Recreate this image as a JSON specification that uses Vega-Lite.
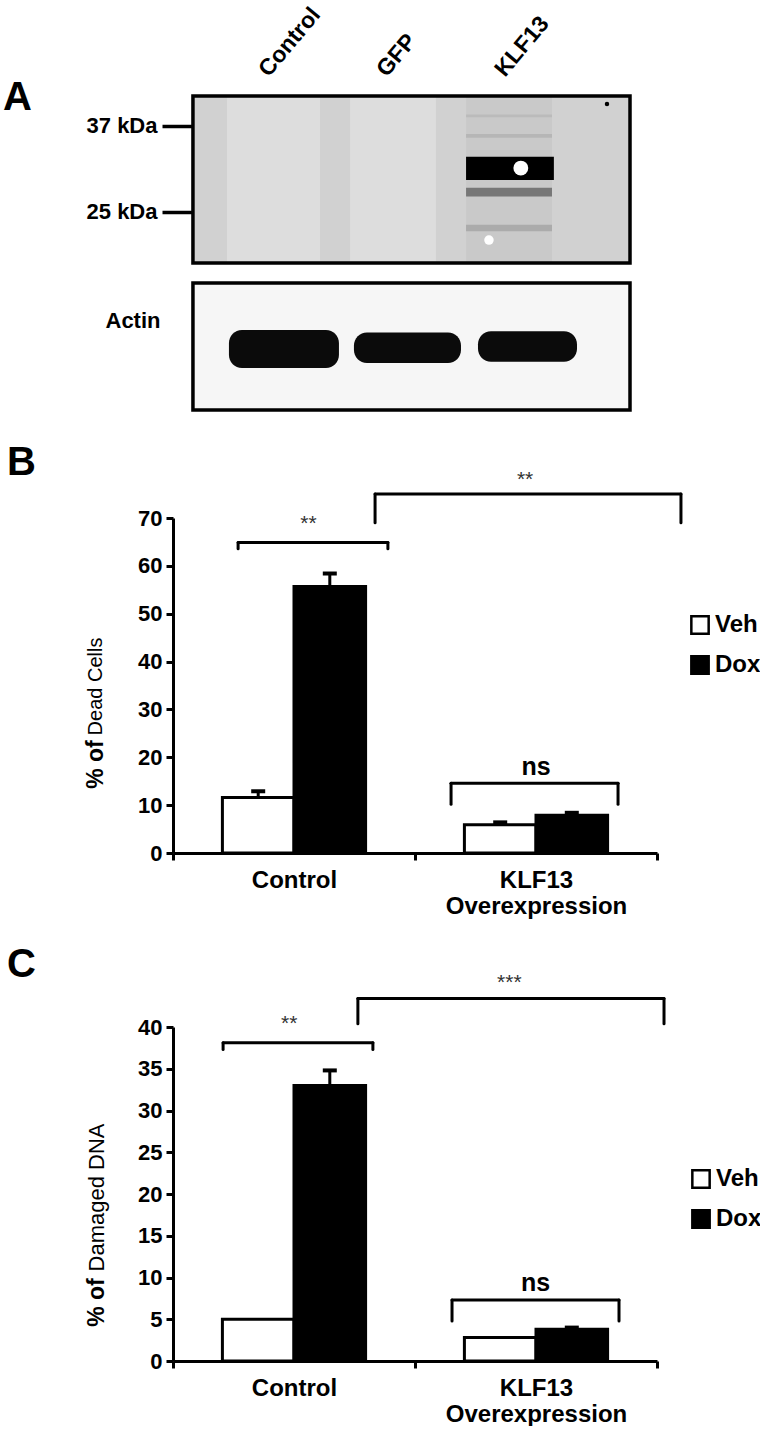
{
  "$schema": "https://vega.github.io/schema/vega-lite/v6.json",
  "background": "white",
  "padding": {"left": 2, "top": 3, "right": 0, "bottom": 0},
  "spacing": 30,
  "resolve": {"scale": {"x": "independent", "y": "independent", "fill": "independent"}},
  "config": {
    "font": "Liberation Sans",
    "view": {"stroke": null},
    "axis": {"grid": false, "domainColor": "black", "tickColor": "black", "labelColor": "black", "titleColor": "black", "labelFontWeight": "bold"},
    "title": {"color": "black"}
  },
  "datasets": {
    "dead": [
      {"group": "Control", "treatment": "Veh", "mean": 11.6, "upper": 12.9},
      {"group": "Control", "treatment": "Dox", "mean": 55.7, "upper": 58.4},
      {"group": "KLF13 Overexpression", "treatment": "Veh", "mean": 5.9, "upper": 6.4},
      {"group": "KLF13 Overexpression", "treatment": "Dox", "mean": 7.9, "upper": 8.4}
    ],
    "dna": [
      {"group": "Control", "treatment": "Veh", "mean": 5.0, "upper": 5.0},
      {"group": "Control", "treatment": "Dox", "mean": 33.0, "upper": 34.8},
      {"group": "KLF13 Overexpression", "treatment": "Veh", "mean": 2.8, "upper": 2.8},
      {"group": "KLF13 Overexpression", "treatment": "Dox", "mean": 3.8, "upper": 4.0}
    ],
    "bracketsB": [
      {"from": 0.269, "to": 0.888, "level": 64.9, "tip": 63.6, "mid": 0.56, "lab": 68.8, "label": "**"},
      {"from": 0.835, "to": 2.099, "level": 75.0, "tip": 69.0, "mid": 1.455, "lab": 78.0, "label": "**"},
      {"from": 1.149, "to": 1.839, "level": 14.6, "tip": 10.2, "mid": 1.5, "lab": 18.0, "label": "ns"}
    ],
    "bracketsC": [
      {"from": 0.207, "to": 0.826, "level": 38.1, "tip": 37.3, "mid": 0.48, "lab": 40.4, "label": "**"},
      {"from": 0.764, "to": 2.029, "level": 43.4, "tip": 40.4, "mid": 1.39, "lab": 45.3, "label": "***"},
      {"from": 1.153, "to": 1.843, "level": 7.3, "tip": 4.8, "mid": 1.498, "lab": 9.3, "label": "ns"}
    ],
    "membrane": [{"x0": 0.322, "x1": 4.025, "top": 42.3, "bottom": 19.83, "od": 0.16}],
    "blot": [
      {"x0": 0.61, "x1": 1.398, "top": 42.3, "bottom": 19.83, "od": 0.12},
      {"x0": 1.653, "x1": 2.381, "top": 42.3, "bottom": 19.83, "od": 0.12},
      {"x0": 2.636, "x1": 3.364, "top": 42.3, "bottom": 19.83, "od": 0.19},
      {"x0": 2.636, "x1": 3.364, "top": 38.9, "bottom": 38.4, "od": 0.24},
      {"x0": 2.636, "x1": 3.364, "top": 35.6, "bottom": 35.0, "od": 0.26},
      {"x0": 2.636, "x1": 3.38, "top": 32.1, "bottom": 28.9, "od": 1.0},
      {"x0": 2.636, "x1": 3.364, "top": 27.9, "bottom": 26.8, "od": 0.5},
      {"x0": 2.636, "x1": 3.364, "top": 23.6, "bottom": 22.9, "od": 0.3}
    ],
    "spots": [
      {"x": 3.10, "k": 30.5, "od": 0, "s": 220},
      {"x": 2.83, "k": 22.0, "od": 0, "s": 90},
      {"x": 3.83, "k": 40.8, "od": 1, "s": 20}
    ],
    "actinMembrane": [{"x0": 0.322, "x1": 4.025, "top": 1, "bottom": 0, "od": 0.03}],
    "actin": [
      {"x0": 0.627, "x1": 1.559, "top": 0.63, "bottom": 0.33, "od": 0.97},
      {"x0": 1.686, "x1": 2.593, "top": 0.61, "bottom": 0.37, "od": 0.97},
      {"x0": 2.737, "x1": 3.576, "top": 0.62, "bottom": 0.38, "od": 0.97}
    ]
  },
  "vconcat": [
    {
      "bounds": "flush",
      "spacing": 20,
      "vconcat": [
        {
          "width": 457,
          "height": 167,
          "layer": [
            {
              "data": {"name": "membrane"},
              "mark": {"type": "rect"},
              "encoding": {
                "x": {"field": "x0", "type": "quantitative", "scale": {"domain": [0.153, 4.025], "nice": false, "zero": false},
                  "axis": {"orient": "top", "values": [1, 2, 3], "labelExpr": "datum.value == 1 ? 'Control' : datum.value == 2 ? 'GFP' : 'KLF13'", "labelAngle": -50, "labelAlign": "left", "labelBaseline": "middle", "labelFontSize": 23, "labelPadding": 23, "labelOffset": -10, "ticks": false, "domain": false, "title": null}},
                "x2": {"field": "x1"},
                "y": {"field": "top", "type": "quantitative", "scale": {"type": "log", "domain": [19.83, 42.3], "nice": false},
                  "axis": {"values": [37, 25], "labelExpr": "datum.value + ' kDa'", "offset": -20, "tickSize": 31, "tickWidth": 3.5, "domain": false, "labelFontSize": 22, "labelPadding": 5, "title": "A", "titleAngle": 0, "titleFontSize": 40, "titleFontWeight": "bold", "titleX": -176, "titleY": 1, "titleAlign": "center", "titleBaseline": "middle"}},
                "y2": {"field": "bottom"},
                "fill": {"field": "od", "type": "quantitative", "scale": {"domain": [0, 1], "range": ["#ffffff", "#000000"]}, "legend": null}
              }
            },
            {
              "data": {"name": "blot"},
              "mark": {"type": "rect"},
              "encoding": {
                "x": {"field": "x0", "type": "quantitative"},
                "x2": {"field": "x1"},
                "y": {"field": "top", "type": "quantitative"},
                "y2": {"field": "bottom"},
                "fill": {"field": "od", "type": "quantitative"}
              }
            },
            {
              "data": {"name": "spots"},
              "mark": {"type": "point", "filled": true, "opacity": 1, "shape": "circle"},
              "encoding": {
                "x": {"field": "x", "type": "quantitative"},
                "y": {"field": "k", "type": "quantitative"},
                "fill": {"field": "od", "type": "quantitative"},
                "size": {"field": "s", "type": "quantitative", "scale": null}
              }
            },
            {
              "data": {"name": "membrane"},
              "mark": {"type": "rect", "fill": null, "stroke": "black", "strokeWidth": 3.5},
              "encoding": {
                "x": {"field": "x0", "type": "quantitative"},
                "x2": {"field": "x1"},
                "y": {"field": "top", "type": "quantitative"},
                "y2": {"field": "bottom"}
              }
            }
          ]
        },
        {
          "width": 457,
          "height": 127,
          "layer": [
            {
              "data": {"name": "actinMembrane"},
              "mark": {"type": "rect"},
              "encoding": {
                "x": {"field": "x0", "type": "quantitative", "scale": {"domain": [0.153, 4.025], "nice": false, "zero": false}, "axis": null},
                "x2": {"field": "x1"},
                "y": {"field": "top", "type": "quantitative", "scale": {"domain": [0, 1], "nice": false},
                  "axis": {"labels": false, "ticks": false, "domain": false, "title": "Actin", "titleAngle": 0, "titleFontSize": 22, "titleFontWeight": "bold", "titleX": -13, "titleY": 37, "titleAlign": "right", "titleBaseline": "middle"}},
                "y2": {"field": "bottom"},
                "fill": {"field": "od", "type": "quantitative", "scale": {"domain": [0, 1], "range": ["#ffffff", "#000000"]}, "legend": null}
              }
            },
            {
              "data": {"name": "actin"},
              "mark": {"type": "rect", "cornerRadius": 13},
              "encoding": {
                "x": {"field": "x0", "type": "quantitative"},
                "x2": {"field": "x1"},
                "y": {"field": "top", "type": "quantitative"},
                "y2": {"field": "bottom"},
                "fill": {"field": "od", "type": "quantitative"}
              }
            },
            {
              "data": {"name": "actinMembrane"},
              "mark": {"type": "rect", "fill": null, "stroke": "black", "strokeWidth": 3.5},
              "encoding": {
                "x": {"field": "x0", "type": "quantitative"},
                "x2": {"field": "x1"},
                "y": {"field": "top", "type": "quantitative"},
                "y2": {"field": "bottom"}
              }
            }
          ]
        }
      ]
    },
    {
      "bounds": "flush",
      "spacing": 174,
      "resolve": {"scale": {"x": "independent", "y": "independent", "fill": "independent"}},
      "vconcat": [
        {
          "width": 484,
          "height": 335,
          "title": {"text": "B", "anchor": "start", "frame": "group", "dx": -166, "dy": 18, "fontSize": 40, "fontWeight": "bold"},
          "resolve": {"scale": {"x": "independent"}, "axis": {"y": "independent"}},
          "layer": [
            {
              "data": {"name": "dead"},
              "encoding": {
                "x": {"field": "group", "type": "nominal", "sort": ["Control", "KLF13 Overexpression"], "scale": {"paddingInner": 0, "paddingOuter": 0},
                  "axis": {"title": null, "tickBand": "extent", "labelAngle": 0, "labelExpr": "datum.value == 'KLF13 Overexpression' ? ['KLF13', 'Overexpression'] : datum.value", "labelFontSize": 24, "labelPadding": 8, "labelLineHeight": 26, "labelLimit": 400, "labelBaseline": "top", "domainWidth": 3, "tickWidth": 3, "tickSize": 7}},
                "xOffset": {"field": "treatment", "type": "nominal", "sort": ["Veh", "Dox"], "scale": {"paddingInner": 0, "paddingOuter": 0.69}}
              },
              "layer": [
                {
                  "mark": {"type": "bar", "stroke": "black", "strokeWidth": 3},
                  "encoding": {
                    "y": {"field": "mean", "type": "quantitative", "title": "% of", "scale": {"domain": [0, 70], "nice": false},
                      "axis": {"values": [0, 10, 20, 30, 40, 50, 60, 70], "domainWidth": 3, "tickWidth": 3, "tickSize": 7, "labelFontSize": 22, "labelPadding": 4, "titleFontSize": 23, "titleFontWeight": "bold", "titleAngle": 270, "titleX": -78, "titleY": 246, "titleAlign": "center", "titleBaseline": "middle"}},
                    "fill": {"field": "treatment", "type": "nominal", "scale": {"domain": ["Veh", "Dox"], "range": ["white", "black"]},
                      "legend": {"orient": "none", "legendX": 515, "legendY": 95, "padding": 0, "title": null, "symbolType": "square", "symbolSize": 300, "symbolStrokeColor": "black", "symbolStrokeWidth": 2.5, "labelFontSize": 24, "labelFontWeight": "bold", "labelOffset": 3, "rowPadding": 12}}
                  }
                },
                {
                  "mark": {"type": "rule", "strokeWidth": 3, "color": "black"},
                  "encoding": {
                    "y": {"field": "mean", "type": "quantitative", "title": "% of", "scale": {"domain": [0, 70], "nice": false}},
                    "y2": {"field": "upper"}
                  }
                },
                {
                  "mark": {"type": "tick", "thickness": 4, "size": 14, "color": "black", "opacity": 1},
                  "encoding": {
                    "y": {"field": "upper", "type": "quantitative", "title": "% of", "scale": {"domain": [0, 70], "nice": false}}
                  }
                }
              ]
            },
            {
              "data": {"name": "bracketsB"},
              "layer": [
                {
                  "mark": {"type": "rule", "strokeWidth": 3, "strokeCap": "round", "color": "black"},
                  "encoding": {
                    "x": {"field": "from", "type": "quantitative", "scale": {"domain": [0, 2], "nice": false, "zero": false}, "axis": null},
                    "x2": {"field": "to"},
                    "y": {"field": "level", "type": "quantitative", "title": "Dead Cells", "scale": {"domain": [0, 70], "nice": false},
                      "axis": {"orient": "left", "labels": false, "ticks": false, "domain": false, "titleFontSize": 20, "titleFontWeight": "normal", "titleAngle": 270, "titleX": -78, "titleY": 168, "titleAlign": "center", "titleBaseline": "middle"}}
                  }
                },
                {
                  "mark": {"type": "rule", "strokeWidth": 3, "strokeCap": "round", "color": "black"},
                  "encoding": {
                    "x": {"field": "from", "type": "quantitative", "scale": {"domain": [0, 2], "nice": false, "zero": false}, "axis": null},
                    "y": {"field": "level", "type": "quantitative", "title": "Dead Cells", "scale": {"domain": [0, 70], "nice": false}},
                    "y2": {"field": "tip"}
                  }
                },
                {
                  "mark": {"type": "rule", "strokeWidth": 3, "strokeCap": "round", "color": "black"},
                  "encoding": {
                    "x": {"field": "to", "type": "quantitative", "scale": {"domain": [0, 2], "nice": false, "zero": false}, "axis": null},
                    "y": {"field": "level", "type": "quantitative", "title": "Dead Cells", "scale": {"domain": [0, 70], "nice": false}},
                    "y2": {"field": "tip"}
                  }
                },
                {
                  "transform": [{"filter": "datum.label != 'ns'"}],
                  "mark": {"type": "text", "fontSize": 21, "color": "#333333", "baseline": "middle"},
                  "encoding": {
                    "x": {"field": "mid", "type": "quantitative", "scale": {"domain": [0, 2], "nice": false, "zero": false}, "axis": null},
                    "y": {"field": "lab", "type": "quantitative", "title": "Dead Cells", "scale": {"domain": [0, 70], "nice": false}},
                    "text": {"field": "label"}
                  }
                },
                {
                  "transform": [{"filter": "datum.label == 'ns'"}],
                  "mark": {"type": "text", "fontSize": 25, "fontWeight": "bold", "color": "black", "baseline": "middle"},
                  "encoding": {
                    "x": {"field": "mid", "type": "quantitative", "scale": {"domain": [0, 2], "nice": false, "zero": false}, "axis": null},
                    "y": {"field": "lab", "type": "quantitative", "title": "Dead Cells", "scale": {"domain": [0, 70], "nice": false}},
                    "text": {"field": "label"}
                  }
                }
              ]
            }
          ]
        },
        {
          "width": 484,
          "height": 334,
          "title": {"text": "C", "anchor": "start", "frame": "group", "dx": -166, "dy": 17, "fontSize": 40, "fontWeight": "bold"},
          "resolve": {"scale": {"x": "independent"}, "axis": {"y": "independent"}},
          "layer": [
            {
              "data": {"name": "dna"},
              "encoding": {
                "x": {"field": "group", "type": "nominal", "sort": ["Control", "KLF13 Overexpression"], "scale": {"paddingInner": 0, "paddingOuter": 0},
                  "axis": {"title": null, "tickBand": "extent", "labelAngle": 0, "labelExpr": "datum.value == 'KLF13 Overexpression' ? ['KLF13', 'Overexpression'] : datum.value", "labelFontSize": 24, "labelPadding": 8, "labelLineHeight": 26, "labelLimit": 400, "labelBaseline": "top", "domainWidth": 3, "tickWidth": 3, "tickSize": 7}},
                "xOffset": {"field": "treatment", "type": "nominal", "sort": ["Veh", "Dox"], "scale": {"paddingInner": 0, "paddingOuter": 0.69}}
              },
              "layer": [
                {
                  "mark": {"type": "bar", "stroke": "black", "strokeWidth": 3},
                  "encoding": {
                    "y": {"field": "mean", "type": "quantitative", "title": "% of", "scale": {"domain": [0, 40], "nice": false},
                      "axis": {"values": [0, 5, 10, 15, 20, 25, 30, 35, 40], "domainWidth": 3, "tickWidth": 3, "tickSize": 7, "labelFontSize": 22, "labelPadding": 4, "titleFontSize": 23, "titleFontWeight": "bold", "titleAngle": 270, "titleX": -77, "titleY": 275, "titleAlign": "center", "titleBaseline": "middle"}},
                    "fill": {"field": "treatment", "type": "nominal", "scale": {"domain": ["Veh", "Dox"], "range": ["white", "black"]},
                      "legend": {"orient": "none", "legendX": 516, "legendY": 140, "padding": 0, "title": null, "symbolType": "square", "symbolSize": 300, "symbolStrokeColor": "black", "symbolStrokeWidth": 2.5, "labelFontSize": 24, "labelFontWeight": "bold", "labelOffset": 3, "rowPadding": 12}}
                  }
                },
                {
                  "mark": {"type": "rule", "strokeWidth": 3, "color": "black"},
                  "encoding": {
                    "y": {"field": "mean", "type": "quantitative", "title": "% of", "scale": {"domain": [0, 40], "nice": false}},
                    "y2": {"field": "upper"}
                  }
                },
                {
                  "transform": [{"filter": "datum.upper > datum.mean"}],
                  "mark": {"type": "tick", "thickness": 4, "size": 14, "color": "black", "opacity": 1},
                  "encoding": {
                    "y": {"field": "upper", "type": "quantitative", "title": "% of", "scale": {"domain": [0, 40], "nice": false}}
                  }
                }
              ]
            },
            {
              "data": {"name": "bracketsC"},
              "layer": [
                {
                  "mark": {"type": "rule", "strokeWidth": 3, "strokeCap": "round", "color": "black"},
                  "encoding": {
                    "x": {"field": "from", "type": "quantitative", "scale": {"domain": [0, 2], "nice": false, "zero": false}, "axis": null},
                    "x2": {"field": "to"},
                    "y": {"field": "level", "type": "quantitative", "title": "Damaged DNA", "scale": {"domain": [0, 40], "nice": false},
                      "axis": {"orient": "left", "labels": false, "ticks": false, "domain": false, "titleFontSize": 22, "titleFontWeight": "normal", "titleAngle": 270, "titleX": -77, "titleY": 170, "titleAlign": "center", "titleBaseline": "middle"}}
                  }
                },
                {
                  "mark": {"type": "rule", "strokeWidth": 3, "strokeCap": "round", "color": "black"},
                  "encoding": {
                    "x": {"field": "from", "type": "quantitative", "scale": {"domain": [0, 2], "nice": false, "zero": false}, "axis": null},
                    "y": {"field": "level", "type": "quantitative", "title": "Damaged DNA", "scale": {"domain": [0, 40], "nice": false}},
                    "y2": {"field": "tip"}
                  }
                },
                {
                  "mark": {"type": "rule", "strokeWidth": 3, "strokeCap": "round", "color": "black"},
                  "encoding": {
                    "x": {"field": "to", "type": "quantitative", "scale": {"domain": [0, 2], "nice": false, "zero": false}, "axis": null},
                    "y": {"field": "level", "type": "quantitative", "title": "Damaged DNA", "scale": {"domain": [0, 40], "nice": false}},
                    "y2": {"field": "tip"}
                  }
                },
                {
                  "transform": [{"filter": "datum.label != 'ns'"}],
                  "mark": {"type": "text", "fontSize": 21, "color": "#333333", "baseline": "middle"},
                  "encoding": {
                    "x": {"field": "mid", "type": "quantitative", "scale": {"domain": [0, 2], "nice": false, "zero": false}, "axis": null},
                    "y": {"field": "lab", "type": "quantitative", "title": "Damaged DNA", "scale": {"domain": [0, 40], "nice": false}},
                    "text": {"field": "label"}
                  }
                },
                {
                  "transform": [{"filter": "datum.label == 'ns'"}],
                  "mark": {"type": "text", "fontSize": 25, "fontWeight": "bold", "color": "black", "baseline": "middle"},
                  "encoding": {
                    "x": {"field": "mid", "type": "quantitative", "scale": {"domain": [0, 2], "nice": false, "zero": false}, "axis": null},
                    "y": {"field": "lab", "type": "quantitative", "title": "Damaged DNA", "scale": {"domain": [0, 40], "nice": false}},
                    "text": {"field": "label"}
                  }
                }
              ]
            }
          ]
        }
      ]
    }
  ]
}
